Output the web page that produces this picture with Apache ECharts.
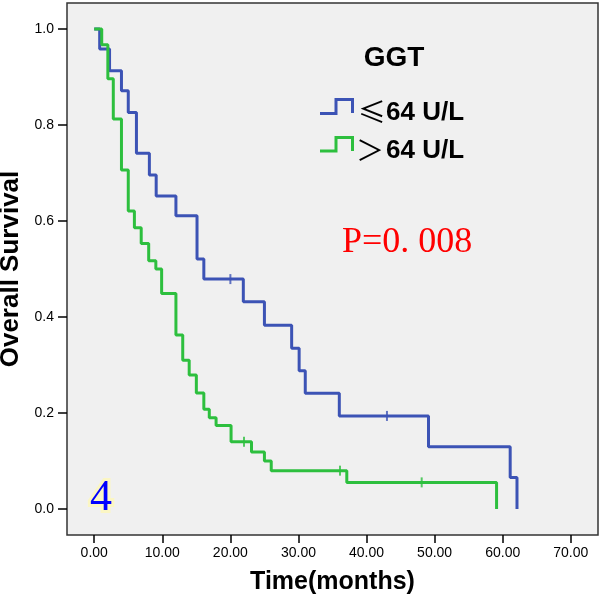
<!DOCTYPE html>
<html>
<head>
<meta charset="utf-8">
<script src="https://cdn.jsdelivr.net/npm/echarts@6/dist/echarts.min.js"></script>
<style>
html,body{margin:0;padding:0;background:#fff;}
#c{width:600px;height:601px;}
</style>
</head>
<body>
<div id="c"></div>
<script>
// Kaplan-Meier steps: [time, survival after event]
const lowTimes = [0, 0.8, 2.25, 4.0, 5.0, 6.2, 8.1, 9.1, 12.0, 15.1, 16.1, 21.9, 25.0, 29.0, 30.1, 31.0, 36.0, 49.1, 61.1, 62.1];
const lowSurv  = [1.0, 0.958, 0.913, 0.871, 0.826, 0.741, 0.696, 0.652, 0.611, 0.521, 0.479, 0.432, 0.383, 0.335, 0.288, 0.241, 0.194, 0.130, 0.066, 0.0];
const lowCensorTimes = [20.0, 43.0];
const lowCensorSurv  = [0.479, 0.194];

const highTimes = [0, 1.1, 2.0, 2.8, 4.0, 5.0, 5.9, 6.9, 8.0, 9.05, 9.9, 12.0, 13.0, 13.95, 15.0, 16.1, 16.9, 17.9, 20.1, 23.1, 25.0, 26.0, 37.1, 59.1];
const highSurv  = [1.0, 0.967, 0.896, 0.8125, 0.706, 0.621, 0.586, 0.553, 0.517, 0.5, 0.449, 0.3625, 0.31, 0.279, 0.242, 0.208, 0.190, 0.174, 0.140, 0.119, 0.100, 0.080, 0.0556, 0.0];
const highCensorTimes = [22.0, 36.1, 48.1];
const highCensorSurv  = [0.140, 0.080, 0.0556];

const xTicks = [0, 10, 20, 30, 40, 50, 60, 70];
const yTicks = [0, 0.2, 0.4, 0.6, 0.8, 1.0];

const legendTitle = 'GGT';
const lowName = '≤';
const highName = '＞';
const lowLabel = '64 U/L';
const pText = 'P=0. 008';
const panelLabel = '4';

const BLUE = '#3c53b5';
const GREEN = '#2dbf3e';

const zip = (a, b) => a.map((v, i) => [v, b[i]]);

const chart = echarts.init(document.getElementById('c'));
chart.setOption({
  animation: false,
  grid: {left: 67, right: 2, top: 3, bottom: 66, outerBoundsMode: 'none', containLabel: false, show: true, backgroundColor: '#f0f0f0', borderColor: '#333', borderWidth: 1.5},
  xAxis: {
    type: 'value', min: -4, max: 74,
    name: 'Time(months)', nameLocation: 'middle', nameGap: 35,
    nameTextStyle: {fontFamily: 'Liberation Sans', fontWeight: 'bold', fontSize: 25, color: '#000'},
    axisLine: {show: false, onZero: false},
    splitLine: {show: false},
    axisTick: {show: true, customValues: xTicks, length: 8, lineStyle: {color: '#000', width: 1.5}},
    axisLabel: {customValues: xTicks, formatter: v => v.toFixed(2), margin: 11, fontFamily: 'Liberation Sans', fontSize: 14, color: '#000'}
  },
  yAxis: {
    type: 'value', min: -0.054, max: 1.054,
    name: 'Overall Survival', nameLocation: 'middle', nameGap: 42,
    nameTextStyle: {fontFamily: 'Liberation Sans', fontWeight: 'bold', fontSize: 26, color: '#000'},
    axisLine: {show: false, onZero: false},
    splitLine: {show: false},
    axisTick: {show: true, customValues: yTicks, length: 9, lineStyle: {color: '#000', width: 1.5}},
    axisLabel: {customValues: yTicks, formatter: v => v.toFixed(1), margin: 13, fontFamily: 'Liberation Sans', fontSize: 14, color: '#000'}
  },
  series: [
    {type: 'line', step: 'end', data: zip(lowTimes, lowSurv), showSymbol: false, lineStyle: {color: BLUE, width: 3}, z: 2},
    {type: 'line', step: 'end', data: zip(highTimes, highSurv), showSymbol: false, lineStyle: {color: GREEN, width: 3}, z: 3},
    {type: 'scatter', data: zip(lowCensorTimes, lowCensorSurv), symbol: 'rect', symbolSize: [2, 10], itemStyle: {color: BLUE}, z: 4},
    {type: 'scatter', data: zip(highCensorTimes, highCensorSurv), symbol: 'rect', symbolSize: [2, 10], itemStyle: {color: GREEN}, z: 4}
  ],
  graphic: [
    {type: 'text', x: 394, y: 58, style: {text: legendTitle, fontFamily: 'Liberation Sans', fontWeight: 'bold', fontSize: 28, fill: '#000', textAlign: 'center', textVerticalAlign: 'middle'}},
    {type: 'polyline', shape: {points: [[320, 113.5], [336, 113.5], [336, 99.5], [352.5, 99.5], [352.5, 113]]}, style: {stroke: BLUE, lineWidth: 3, fill: null}},
    {type: 'polyline', shape: {points: [[320, 151], [336, 151], [336, 137.5], [352.5, 137.5], [352.5, 151]]}, style: {stroke: GREEN, lineWidth: 3, fill: null}},
    {type: 'text', x: 358, y: 112, style: {text: lowName, fontFamily: 'Noto Sans CJK SC', fontSize: 28, fill: '#000', textVerticalAlign: 'middle'}},
    {type: 'text', x: 386, y: 113, style: {text: lowLabel, fontFamily: 'Liberation Sans', fontWeight: 'bold', fontSize: 26, fill: '#000', textVerticalAlign: 'middle'}},
    {type: 'text', x: 356, y: 150, style: {text: highName, fontFamily: 'Noto Sans CJK SC', fontSize: 28, fill: '#000', textVerticalAlign: 'middle'}},
    {type: 'text', x: 386, y: 151, style: {text: lowLabel, fontFamily: 'Liberation Sans', fontWeight: 'bold', fontSize: 26, fill: '#000', textVerticalAlign: 'middle'}},
    {type: 'text', x: 342, y: 243, style: {text: pText, fontFamily: 'Liberation Serif', fontSize: 36, fill: '#ff0000', textVerticalAlign: 'middle'}},
    {type: 'text', x: 101, y: 498, style: {text: panelLabel, fontFamily: 'Liberation Serif', fontSize: 44, fill: '#0000ff', textAlign: 'center', textVerticalAlign: 'middle', stroke: '#fbf6c4', lineWidth: 6}, z: 10}
  ]
});
</script>
</body>
</html>
